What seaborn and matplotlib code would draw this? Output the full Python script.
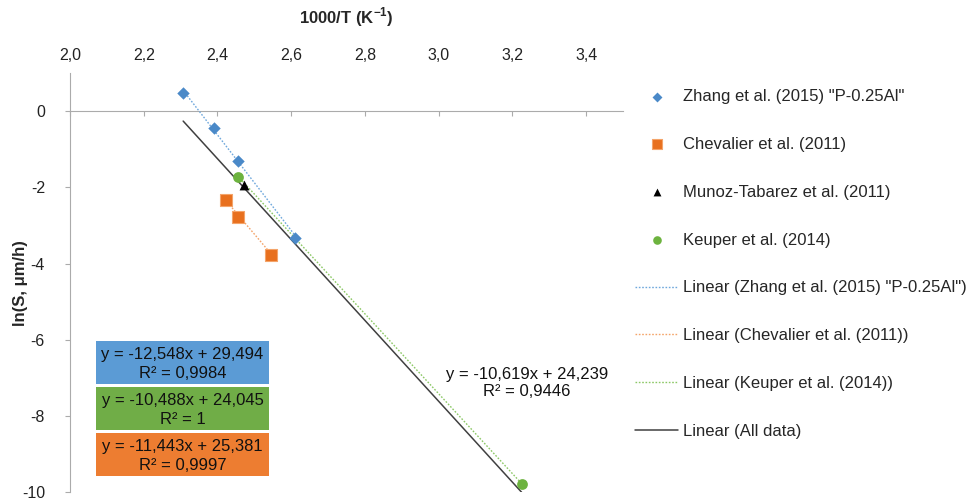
import numpy as np
import pandas as pd
import matplotlib.pyplot as plt
import seaborn as sns
from matplotlib.patches import Rectangle
from matplotlib.ticker import FuncFormatter

# ===============================
# Data
# ===============================
zhang_x = [2.307, 2.391, 2.457, 2.610]
zhang_y = [0.48, -0.44, -1.30, -3.33]
chev_x = [2.422, 2.456, 2.545]
chev_y = [-2.34, -2.78, -3.77]
munoz_x = [2.473]
munoz_y = [-1.94]
keuper_x = [2.455, 3.225]
keuper_y = [-1.74, -9.78]

# trendline coefficients printed on the chart (slope, intercept, R²)
zhang_fit = (-12.548, 29.494, 0.9984)
chev_fit = (-11.443, 25.381, 0.9997)
keuper_fit = (-10.488, 24.045, 1)
all_fit = (-10.619, 24.239, 0.9446)

zhang_name = 'Zhang et al. (2015) "P-0.25Al"'
chev_name = "Chevalier et al. (2011)"
munoz_name = "Munoz-Tabarez et al. (2011)"
keuper_name = "Keuper et al. (2014)"

blue = "#4A89C8"
orange = "#E8701E"
green = "#6DB33F"
axis_grey = "#ABABAB"

sns.set_style("white")
plt.rcParams["font.family"] = ["Liberation Sans", "DejaVu Sans"]
plt.rcParams["axes.unicode_minus"] = False
plt.rcParams["mathtext.fontset"] = "custom"
plt.rcParams["mathtext.rm"] = "Liberation Sans"
plt.rcParams["mathtext.bf"] = "Liberation Sans:bold"

fig = plt.figure(figsize=(9.68, 5.01), dpi=100)
ax = fig.add_axes([0.0723, 0.018, 0.5713, 0.836])

# ===============================
# Points
# ===============================
sns.scatterplot(x=zhang_x, y=zhang_y, ax=ax, marker="D", s=40, color=blue,
                edgecolor=blue, linewidth=0, label=zhang_name, zorder=5)
sns.scatterplot(x=chev_x, y=chev_y, ax=ax, marker="s", s=70, color=orange,
                edgecolor="#F4A46A", linewidth=0.8, label=chev_name, zorder=5)
sns.scatterplot(x=munoz_x, y=munoz_y, ax=ax, marker="^", s=50, color="black",
                linewidth=0, label=munoz_name, zorder=5)
sns.scatterplot(x=keuper_x, y=keuper_y, ax=ax, marker="o", s=60, color=green,
                linewidth=0, label=keuper_name, zorder=5)


# ===============================
# Trend lines
# ===============================
def trend(xs, fit):
    xx = np.array([min(xs), max(xs)])
    return pd.DataFrame({"x": xx, "y": fit[0] * xx + fit[1]})


dots = (0, (1.2, 1.2))
t = trend(zhang_x, zhang_fit)
sns.lineplot(data=t, x="x", y="y", ax=ax, color="#6FA8DC", lw=1, linestyle=dots,
             label="Linear (" + zhang_name + ")", zorder=3)
t = trend(chev_x, chev_fit)
sns.lineplot(data=t, x="x", y="y", ax=ax, color="#F4A46A", lw=1, linestyle=dots,
             label="Linear (" + chev_name + ")", zorder=3)
t = trend(keuper_x, keuper_fit)
sns.lineplot(data=t, x="x", y="y", ax=ax, color="#8CC866", lw=1, linestyle=dots,
             label="Linear (" + keuper_name + ")", zorder=3)
t = trend(zhang_x + chev_x + munoz_x + keuper_x, all_fit)
sns.lineplot(data=t, x="x", y="y", ax=ax, color="#404040", lw=1.1,
             label="Linear (All data)", zorder=2)

# ===============================
# Axes
# ===============================
ax.set_xlim(2.0, 3.5)
ax.set_ylim(-10, 1)
ax.set_xticks(np.arange(2.0, 3.41, 0.2))
ax.set_yticks(np.arange(-10, 0.1, 2))
ax.xaxis.set_major_formatter(FuncFormatter(lambda v, p: f"{v:.1f}".replace(".", ",")))
ax.yaxis.set_major_formatter(FuncFormatter(lambda v, p: f"{v:.0f}"))

for s in ["top", "right"]:
    ax.spines[s].set_visible(False)
ax.spines["bottom"].set_position(("data", 0))
ax.spines["bottom"].set_color(axis_grey)
ax.spines["left"].set_color(axis_grey)

ax.tick_params(axis="x", bottom=True, top=False, labelbottom=False, labeltop=True,
               direction="out", length=3.6, color=axis_grey, pad=3.5,
               labelsize=11.5, labelcolor="#222222")
ax.tick_params(axis="y", left=True, direction="out", length=3.6, color=axis_grey,
               pad=14.4, labelsize=11.5, labelcolor="#222222")

ax.xaxis.set_label_position("top")
ax.set_xlabel(r"1000/T (K$^{\mathbf{-1}}$)", fontsize=12, fontweight="bold", labelpad=17.7)
ax.set_ylabel("ln(S, μm/h)", fontsize=12, fontweight="bold", labelpad=-4.2)

# ===============================
# Equation boxes
# ===============================
def px(x, y):
    return x / 968, 1 - y / 501


def eq_text(fit):
    a = f"{abs(fit[0]):.3f}".replace(".", ",")
    b = f"{fit[1]:.3f}".replace(".", ",")
    r = f"{fit[2]:.4f}".replace(".", ",") if fit[2] != 1 else "1"
    return f"y = -{a}x + {b}", f"R² = {r}"


boxes = [(zhang_fit, "#5B9BD5", 341), (keuper_fit, "#70AD47", 387), (chev_fit, "#ED7D31", 433)]
for fit, col, top in boxes:
    x0, y0 = px(96, top + 43)
    w = 173 / 968
    h = 43 / 501
    fig.add_artist(Rectangle((x0, y0), w, h, transform=fig.transFigure,
                             facecolor=col, edgecolor="white", lw=0))
    l1, l2 = eq_text(fit)
    fig.text(*px(182.5, top + 13), l1, ha="center", va="center", fontsize=12, color="#111111")
    fig.text(*px(182.5, top + 32), l2, ha="center", va="center", fontsize=12, color="#111111")

l1, l2 = eq_text(all_fit)
fig.text(*px(527, 374), l1, ha="center", va="center", fontsize=12, color="#111111")
fig.text(*px(527, 392), l2, ha="center", va="center", fontsize=12, color="#111111")

# ===============================
# Legend
# ===============================
ax.legend(loc="upper left", bbox_to_anchor=px(635, 89), bbox_transform=fig.transFigure,
          frameon=False, fontsize=12, handlelength=2.6, handletextpad=0.3,
          labelspacing=1.97, borderpad=0, borderaxespad=0, markerscale=0.8)

plt.savefig("out.png", dpi=100)
